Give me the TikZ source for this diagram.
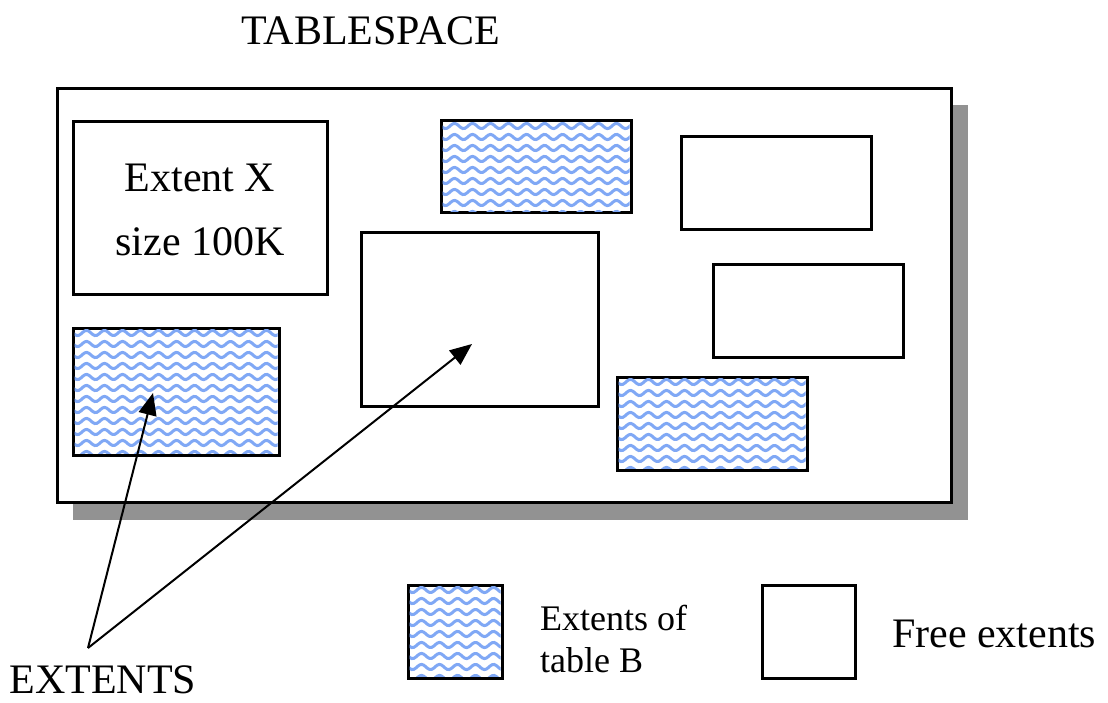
\documentclass[tikz,border=0pt]{standalone}
\usepackage{fontspec}
\setmainfont{Liberation Serif}
\usetikzlibrary{arrows.meta}
\definecolor{waveblue}{RGB}{128,168,245}
\definecolor{shadowgray}{RGB}{146,146,146}
\newcommand\wavefill[4]{%
  \begin{scope}
    \clip (#1+1.5,#2+1.5) rectangle (#3-1.5,#4-1.5);
    \pgfmathtruncatemacro\nrows{(#4-#2)/11}
    \pgfmathtruncatemacro\nsamp{(#3-#1)/2+2}
    \foreach \r in {0,...,\nrows}{
      \draw[wave] plot[variable=\t, domain=0:#3-#1, samples=\nsamp, smooth] ({#1+\t},{#2+5+11*\r+2.6*sin(20*\t)});
    }
  \end{scope}}
\begin{document}
\begin{tikzpicture}[x=1pt,y=-1pt,
  box/.style={draw=black, line width=3pt, fill=white, inner sep=0pt, outer sep=0pt, rectangle},
  wave/.style={draw=waveblue, line width=3pt},
  lbl/.style={font=\fontsize{42}{50}\selectfont, inner sep=0pt, anchor=base},
  sml/.style={font=\fontsize{36}{42}\selectfont, inner sep=0pt, anchor=base west},
  arr/.style={line width=2pt, -{Triangle[length=22pt,width=18pt]}}
]
\useasboundingbox (0,0) rectangle (1108,703);
% shadow and tablespace
\node[fill=shadowgray, inner sep=0pt, minimum width=895pt, minimum height=415pt] (shadow) at (520.5,312.5) {};
\node[box, minimum width=894pt, minimum height=413pt] (main) at (504,295.5) {};
\node[lbl] (title) at (371,45) {TABLESPACE};
% extents
\node[box, minimum width=254pt, minimum height=173pt] (extx) at (200,208.5) {};
\node[lbl] (extxa) at (200,192) {Extent X};
\node[lbl] (extxb) at (200,256) {size 100K};
\node[box, minimum width=190pt, minimum height=92pt] (ptop) at (536,167) {};
\wavefill{441}{121}{631}{213}
\node[box, minimum width=190pt, minimum height=93pt] (ftr) at (776,183.5) {};
\node[box, minimum width=237pt, minimum height=173pt] (cen) at (479.5,319.5) {};
\node[box, minimum width=190pt, minimum height=92pt] (fmr) at (808,311) {};
\node[box, minimum width=190pt, minimum height=93pt] (pbr) at (712,423.5) {};
\wavefill{617}{377}{807}{470}
\node[box, minimum width=206pt, minimum height=127pt] (pleft) at (176,391.5) {};
\wavefill{73}{328}{279}{455}
% arrows
\coordinate (orig) at (88,648);
\coordinate (tip1) at (153,393);
\coordinate (tip2) at (472,344);
\draw[arr] (orig) -- (tip1);
\draw[arr] (orig) -- (tip2);
\node[lbl] (extents) at (103,693) {EXTENTS};
% legend
\node[box, minimum width=94pt, minimum height=93pt] (legp) at (455,631.5) {};
\wavefill{408}{585}{502}{678}
\node[sml] (legpa) at (540,630) {Extents of};
\node[sml] (legpb) at (540,672) {table B};
\node[box, minimum width=93pt, minimum height=93pt] (legf) at (808.5,631.5) {};
\node[lbl, anchor=base west] (legfa) at (892,647) {Free extents};
\end{tikzpicture}
\end{document}
